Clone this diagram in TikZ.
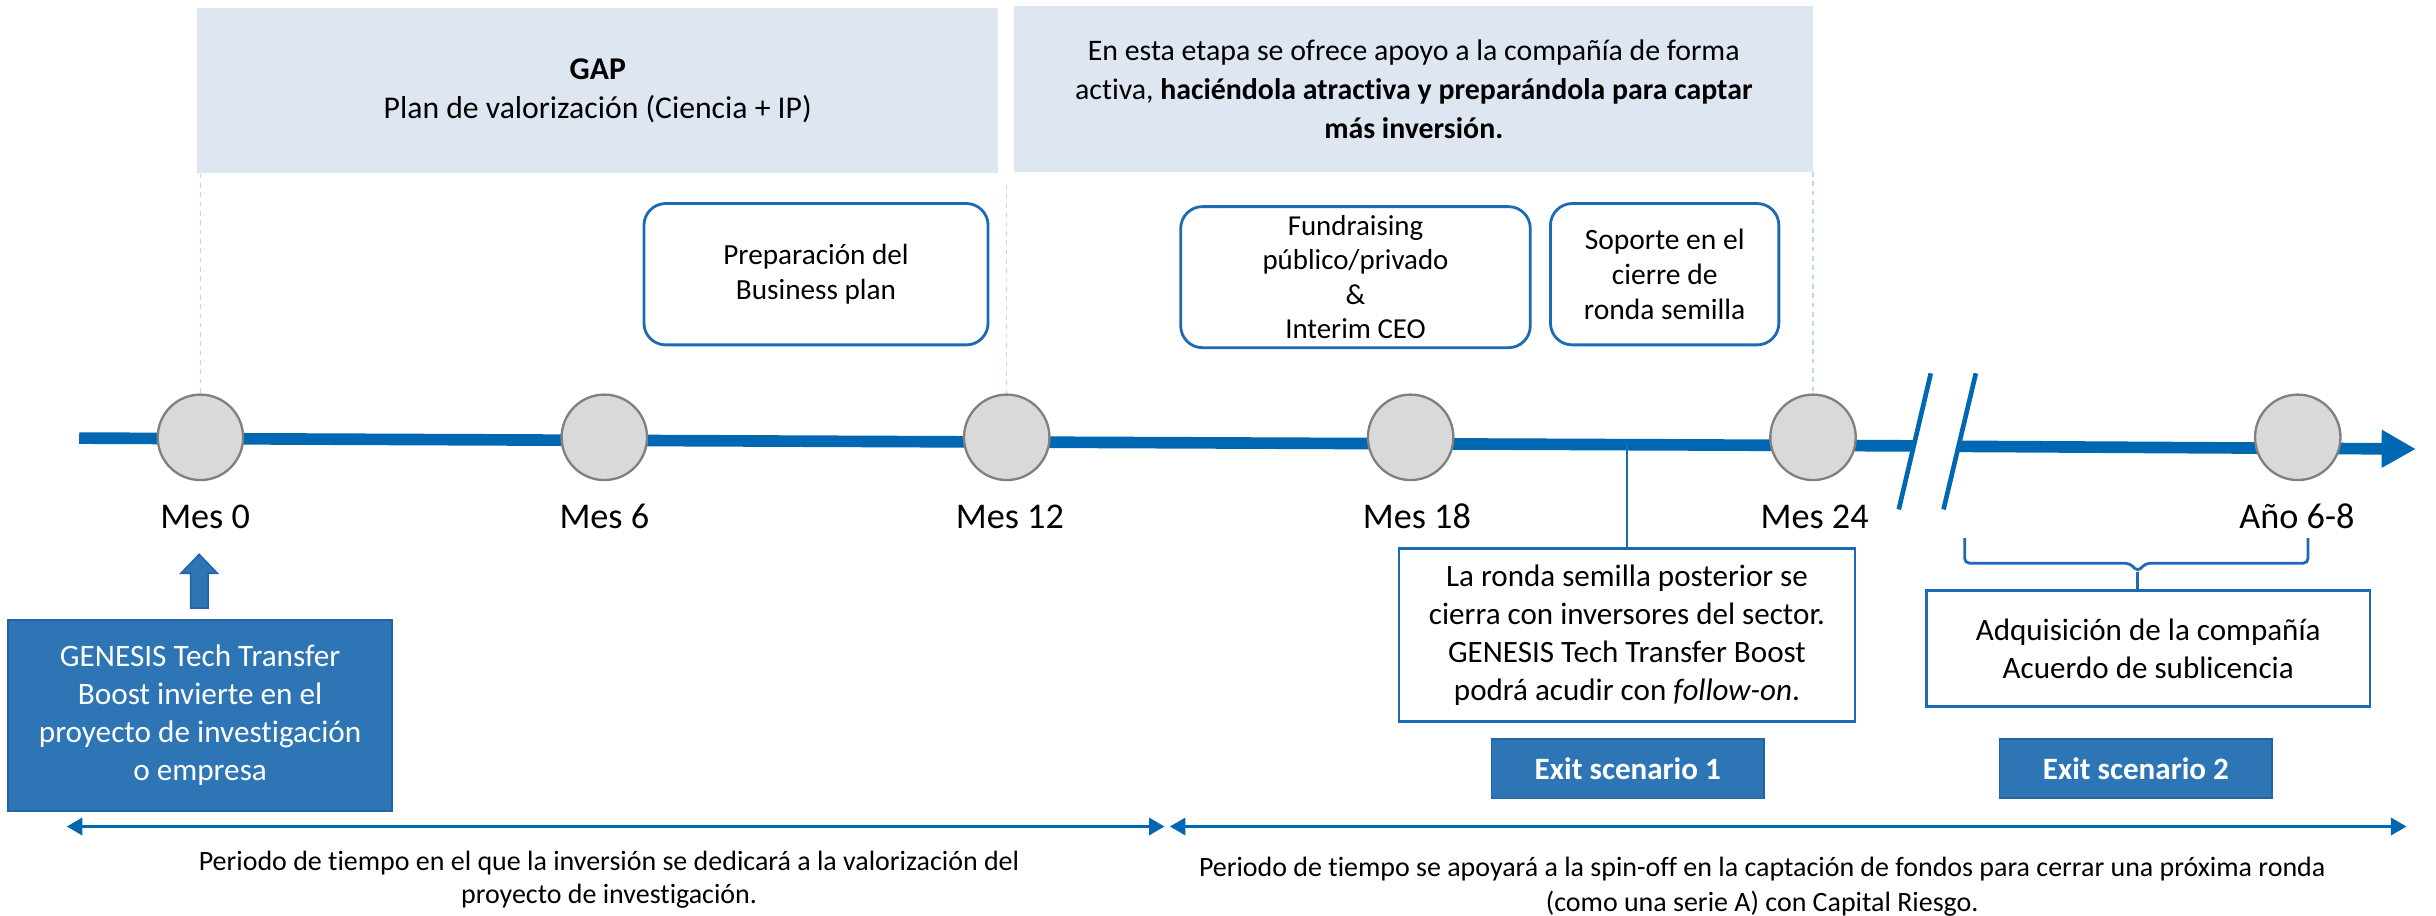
\documentclass[tikz,border=0pt]{standalone}
\usepackage{fontspec}
\setmainfont{Carlito}[Ligatures=NoCommon]
\usetikzlibrary{arrows.meta}
\definecolor{tlblue}{RGB}{0,103,178}
\definecolor{fillblue}{RGB}{46,117,182}
\definecolor{edgeblue}{RGB}{34,100,168}
\definecolor{rbord}{RGB}{28,106,180}
\definecolor{lightbg}{RGB}{222,230,242}
\definecolor{dashc}{RGB}{189,215,238}
\definecolor{circfill}{RGB}{217,217,217}
\definecolor{circedge}{RGB}{128,128,128}
\newcommand\fsz[2]{\fontsize{#1}{#2}\selectfont}
\tikzset{
  topbox/.style={fill=lightbg, draw=none, align=center, inner sep=0pt},
  rbox/.style={draw=rbord, line width=1.8pt, rounded corners=14pt, fill=white, align=center, inner sep=0pt},
  sbox/.style={draw=rbord, line width=1.8pt, fill=white, align=center, inner sep=0pt},
  bluebox/.style={draw=edgeblue, line width=1.2pt, fill=fillblue, text=white, align=center, inner sep=0pt},
  milestone/.style={circle, fill=circfill, draw=circedge, line width=1.5pt, minimum size=55pt, inner sep=0pt},
  tlabel/.style={anchor=base, inner sep=0pt, font=\fsz{23.3}{28}},
  guide/.style={draw=dashc, line width=0.8pt, dashed},
  breakline/.style={draw=tlblue, line width=3pt},
  span/.style={draw=tlblue, line width=2pt, {Triangle[length=10pt,width=11pt]}-{Triangle[length=10pt,width=11pt]}},
}
\begin{document}
\begin{tikzpicture}[x=1pt,y=-1pt]
\useasboundingbox (0,0) rectangle (1568,589);

% top banner boxes
\node[topbox, minimum width=515.5pt, minimum height=106.6pt, font=\fsz{20.4}{25}] (gap) at (384.75,58.3)
  {\textbf{GAP}\\Plan de valorización (Ciencia + IP)};
\node[topbox, minimum width=514pt, minimum height=106.6pt, font=\fsz{19.2}{25}] (act) at (910,57.3)
  {En esta etapa se ofrece apoyo a la compañía de forma\\
   activa, \textbf{haciéndola atractiva y preparándola para captar}\\
   \textbf{más inversión.}};

% rounded activity boxes
\node[rbox, minimum width=221.5pt, minimum height=91pt, font=\fsz{18.8}{23}] (prep) at (525.25,176.5)
  {Preparación del\\Business plan};
\node[rbox, minimum width=225pt, minimum height=90.8pt, font=\fsz{18.6}{22}] (fund) at (872.5,178.4)
  {Fundraising\\público/privado\\\&\\Interim CEO};
\node[rbox, minimum width=147pt, minimum height=91pt, font=\fsz{19}{22.5}] (sop) at (1071.5,176.5)
  {Soporte en el\\cierre de\\ronda semilla};

% timeline
\coordinate (tlstart) at (51,282);
\coordinate (brkL) at (1232,287);
\coordinate (brkR) at (1261,287.3);
\coordinate (tlend) at (1555,289);
\draw[tlblue, line width=7.5pt] (tlstart) -- (brkL);
\draw[tlblue, line width=7.5pt, -{Triangle[length=22pt,width=23pt]}] (brkR) -- (tlend);
\draw[breakline] (1242.8,240.3) -- (1222.2,327.9);
\draw[breakline] (1271.8,240.3) -- (1251,327.9);

\node[milestone] (c0) at (129,281.5) {};
\node[milestone] (c1) at (389,281.5) {};
\node[milestone] (c2) at (648,281.5) {};
\node[milestone] (c3) at (908,281.5) {};
\node[milestone] (c4) at (1167,281.5) {};
\node[milestone] (c5) at (1479,281.5) {};

% guides
\draw[guide] (c0.north |- gap.south) -- (c0.north);
\draw[guide] ([yshift=-7pt]c2.north |- gap.south) -- (c2.north);
\draw[guide] (c4.north |- act.south) -- (c4.north);

% labels
\node[tlabel] (l0) at (132,340) {Mes 0};
\node[tlabel] (l1) at (389,340) {Mes 6};
\node[tlabel] (l2) at (650,340) {Mes 12};
\node[tlabel] (l3) at (912,340) {Mes 18};
\node[tlabel] (l4) at (1168,340) {Mes 24};
\node[tlabel] (l5) at (1478.5,340) {Año 6-8};

% exit scenario 1
\node[sbox, minimum width=293.5pt, minimum height=111.6pt, font=\fsz{20}{24.5}] (ronda) at (1047.25,408.8)
  {La ronda semilla posterior se\\cierra con inversores del sector.\\GENESIS Tech Transfer Boost\\podrá acudir con \textit{follow-on}.};
\coordinate (tl18) at (ronda.north |- 0,285);
\draw[rbord, line width=1pt] (tl18) -- (ronda.north);
\node[bluebox, minimum width=175.5pt, minimum height=38.3pt, font=\fsz{20}{24}] (ex1) at (1047.75,494.85)
  {\textbf{Exit scenario 1}};

% exit scenario 2
\node[sbox, minimum width=285.5pt, minimum height=75pt, font=\fsz{20}{24.5}] (adq) at (1382.75,417.5)
  {Adquisición de la compañía\\Acuerdo de sublicencia};
\coordinate (brtip) at (1376,368);
\draw[rbord, line width=1.8pt, rounded corners=3pt]
  (1264.6,346.4) |- (1371,362.5) -- (brtip) -- (1381,362.5) -| (1485.6,346.4);
\draw[rbord, line width=1.8pt] (brtip) -- (brtip |- adq.north);
\node[bluebox, minimum width=175.6pt, minimum height=38pt, font=\fsz{20}{24}] (ex2) at (1374.8,494.5)
  {\textbf{Exit scenario 2}};

% investment box and arrow
\node[bluebox, minimum width=247.2pt, minimum height=123.2pt, font=\fsz{20.1}{24.6}] (gen) at (128.8,460.4)
  {GENESIS Tech Transfer\\Boost invierte en el\\proyecto de investigación\\o empresa};
\filldraw[fill=fillblue, draw=edgeblue, line width=1pt]
  (122.7,391.4) -- (122.7,369) -- (116.5,369) -- (128.2,356.8) -- (139.9,369) -- (134,369) -- (134,391.4) -- cycle;

% period spans
\coordinate (p1a) at (43,532);
\coordinate (p1b) at (749.6,532);
\coordinate (p2a) at (753,532);
\coordinate (p2b) at (1549,532);
\draw[span] (p1a) -- (p1b);
\draw[span] (p2a) -- (p2b);
\node[align=center, inner sep=0pt, font=\fsz{18}{21.5}] (txt1) at (392,566.3)
  {Periodo de tiempo en el que la inversión se dedicará a la valorización del\\proyecto de investigación.};
\node[align=center, inner sep=0pt, font=\fsz{18}{22.4}] (txt2) at (1134.3,570.8)
  {Periodo de tiempo se apoyará a la spin-off en la captación de fondos para cerrar una próxima ronda\\(como una serie A) con Capital Riesgo.};
\end{tikzpicture}
\end{document}
